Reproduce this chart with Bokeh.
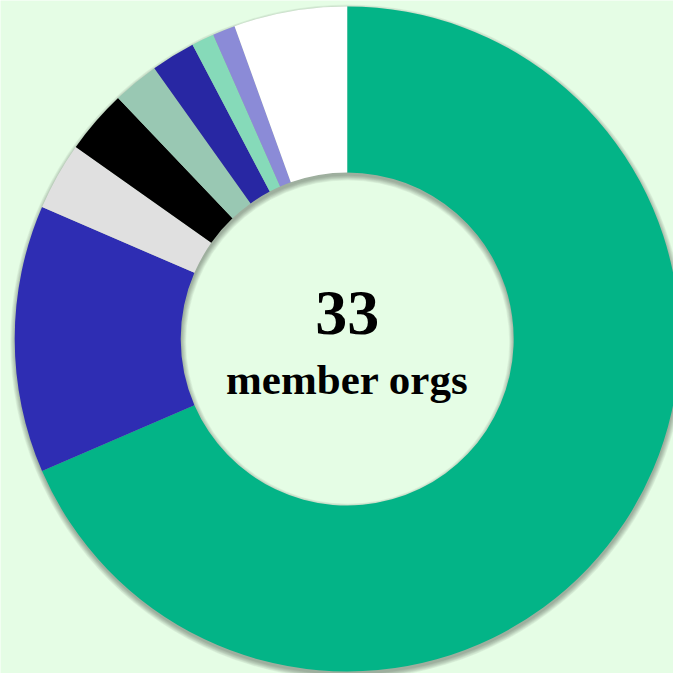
import numpy as np
from bokeh.plotting import figure
from bokeh.models import ColumnDataSource, Range1d
from bokeh.core.properties import value
from bokeh.embed import file_html
from bokeh.resources import INLINE

# Data (clockwise from 12 o'clock)
categories = ["A", "B", "C", "D", "E", "F", "G", "H", "Other"]
shares = [68.5, 13.0, 3.3, 3.1, 2.25, 2.15, 1.1, 1.1, 5.5]
colors = ["#03b487", "#2e2db3", "#e0e0e0", "#000000", "#99c8b3",
          "#2827a3", "#86dab9", "#8b8bd7", "#ffffff"]
center_number = "33"
center_label = "member orgs"

BG = "#e5fde5"
W = H = 673
cx, cy = 346.7, 334.5
R_out, R_in = 332.5, 166.5

vals = np.array(shares, dtype=float)
frac = vals / vals.sum()
cum = np.concatenate([[0.0], np.cumsum(frac)])
start = np.pi / 2 - 2 * np.pi * cum[:-1]
end = np.pi / 2 - 2 * np.pi * cum[1:]

src = ColumnDataSource(dict(cat=categories, val=shares, color=colors,
                            start=start, end=end))

p = figure(width=W, height=H, x_range=Range1d(0, W), y_range=Range1d(0, H),
           output_backend="svg", toolbar_location=None, min_border=0)
p.axis.visible = False
p.grid.visible = False
p.outline_line_color = None
p.background_fill_color = BG
p.border_fill_color = BG

# soft drop shadow
for b in np.linspace(0, 5, 8):
    p.annulus(x=cx + 0.5, y=cy - 3, inner_radius=R_in - b, outer_radius=R_out + b,
              fill_color="black", fill_alpha=0.045, line_color=None)

p.annular_wedge(x=cx, y=cy, inner_radius=R_in, outer_radius=R_out,
                start_angle="start", end_angle="end", direction="clock",
                fill_color="color", line_color=None, source=src)

p.text(x=[cx], y=[361], text=[center_number], text_font=value("Liberation Serif"),
       text_font_style="bold", text_font_size="64px", text_align="center",
       text_baseline="alphabetic", text_color="black")
p.text(x=[cx], y=[294.5], text=[center_label], text_font=value("Liberation Serif"),
       text_font_style="bold", text_font_size="43px", text_align="center",
       text_baseline="alphabetic", text_color="black")

open("out.html", "w").write(file_html(p, INLINE))
